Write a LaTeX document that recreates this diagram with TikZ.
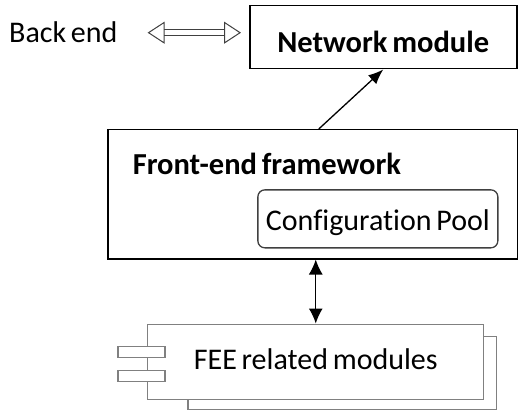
\documentclass[tikz,border=0pt]{standalone}
\usepackage{fontspec}
\setmainfont{Carlito}[Ligatures=NoCommon, WordSpace=0.7]
\usetikzlibrary{arrows.meta,calc,positioning,backgrounds}

\begin{document}
\begin{tikzpicture}[x=1pt, y=1pt, font=\fontsize{30}{35}\selectfont]
    \tikzstyle{block} = [rectangle, draw=black, line width=1.5pt, fill=white, inner sep=0pt, font=\fontsize{30.5}{35}\selectfont\bfseries]
    \tikzstyle{poolbox} = [rectangle, rounded corners=7pt, draw=black!75, line width=1.3pt, inner sep=0pt, minimum width=240pt, text height=41pt, text depth=17pt]
    \tikzstyle{module} = [rectangle, draw=black!50, line width=1.3pt, fill=white, inner sep=0pt, minimum width=336pt, text height=45pt, text depth=30pt]
    \tikzstyle{arrow} = [line width=1.3pt, -{Latex[length=15pt,width=12pt]}]
    \tikzstyle{twoway} = [line width=1.3pt, {Latex[length=15pt,width=14pt]}-{Latex[length=15pt,width=14pt]}]
    \tikzstyle{hollow} = [double=white, double distance=5pt, line width=1pt, draw=black!75, {Triangle[open,length=17pt,width=22pt]}-{Triangle[open,length=17pt,width=22pt]}]

    \useasboundingbox (0,0) rectangle (518,410);

    \node (network) [block, anchor=north west, minimum width=267pt, text height=47pt, text depth=16pt] at (249,405) {Network module\hspace{8pt}};

    \node (backend) [anchor=base west, inner sep=0pt] at (9,367) {Back end};

    \node (frontend) [block, anchor=north west, inner xsep=25pt, text height=45pt, text depth=84pt] at (107,281) {\makebox[360pt][l]{Front-end framework}};

    \node (pool) [poolbox, above left=11pt and 20pt of frontend.south east] {Configuration Pool};

    \node (fee) [module, below=64pt of frontend.south, xshift=3pt] {FEE related modules};

    \begin{pgfonlayer}{background}
        \draw [draw=black!50, line width=1.3pt, fill=white] ($(fee.south west)+(41,-10)$) rectangle ($(fee.north east)+(12,-13)$);
    \end{pgfonlayer}
    \draw [draw=black!50, line width=1.3pt, fill=white] ($(fee.south west)+(-29,42)$) rectangle ($(fee.south west)+(18,53)$);
    \draw [draw=black!50, line width=1.3pt, fill=white] ($(fee.south west)+(-29,18)$) rectangle ($(fee.south west)+(18,29)$);

    \draw [hollow, shorten <=30pt, shorten >=8pt] (backend.east) -- (backend.east -| network.west);
    \draw [arrow] ($(frontend.north)+(6,0)$) -- (network.south);
    \draw [twoway] (frontend.south -| fee.north) -- (fee.north);

\end{tikzpicture}
\end{document}
